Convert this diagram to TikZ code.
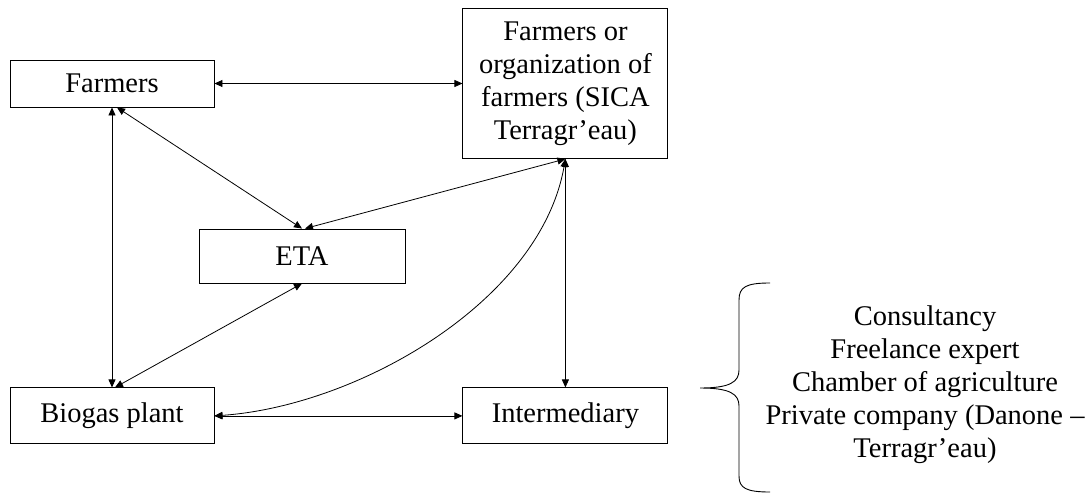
\documentclass[tikz,border=0pt]{standalone}
\usepackage{fontspec}
\setmainfont{Liberation Serif}
\usetikzlibrary{arrows.meta,positioning}
\tikzset{
  ebox/.style={draw=black, line width=0.9pt, inner sep=0pt, align=center,
               font=\fontsize{28.5}{33}\selectfont},
  link/.style={{Triangle[length=8pt,width=7pt]}-{Triangle[length=8pt,width=7pt]}, line width=0.8pt},
}
\begin{document}
\begin{tikzpicture}[x=1pt, y=-1pt, node distance=248pt and 280pt]
    \useasboundingbox (0,0) rectangle (1089,495);
    \node[ebox, minimum width=204pt, minimum height=47pt] (farmers) at (112,83.5) {Farmers};
    \node[ebox, minimum width=205pt, minimum height=150pt, right=248pt of farmers] (org)
        {Farmers or\\organization of\\farmers (SICA\\Terragr’eau)};
    \node[ebox, minimum width=206pt, minimum height=54pt] (eta) at (302,256) {ETA};
    \node[ebox, minimum width=204pt, minimum height=56pt, below=280pt of farmers] (biogas) {Biogas plant};
    \node[ebox, minimum width=205pt, minimum height=56pt, right=248pt of biogas] (inter) {Intermediary};
    \node[align=center, font=\fontsize{28.5}{33}\selectfont] (actors) at (925,385)
        {Consultancy\\Freelance expert\\Chamber of agriculture\\Private company (Danone –\\Terragr’eau)};
    \draw[link] (farmers) -- (org);
    \draw[link] (farmers.south) -- (biogas.north);
    \draw[link] ([xshift=5pt]farmers.south) -- (eta.north);
    \draw[link] (org.south) -- ([xshift=3pt]eta.north);
    \draw[link] (eta.south) -- ([xshift=3pt]biogas.north);
    \draw[link] (org.south) -- (inter.north);
    \draw[link] (biogas) -- (inter);
    \draw[link] (biogas.east) to[out=4, in=-100, looseness=0.85] (org.south);
    % brace
    \draw[line width=0.9pt] (770,283) .. controls (746,283) and (739,287) .. (739,300)
        -- (739,370) .. controls (739,382) and (730,388) .. (700,388)
        .. controls (730,388) and (739,394) .. (739,406)
        -- (739,476) .. controls (739,488) and (746,492) .. (770,492);
\end{tikzpicture}
\end{document}
